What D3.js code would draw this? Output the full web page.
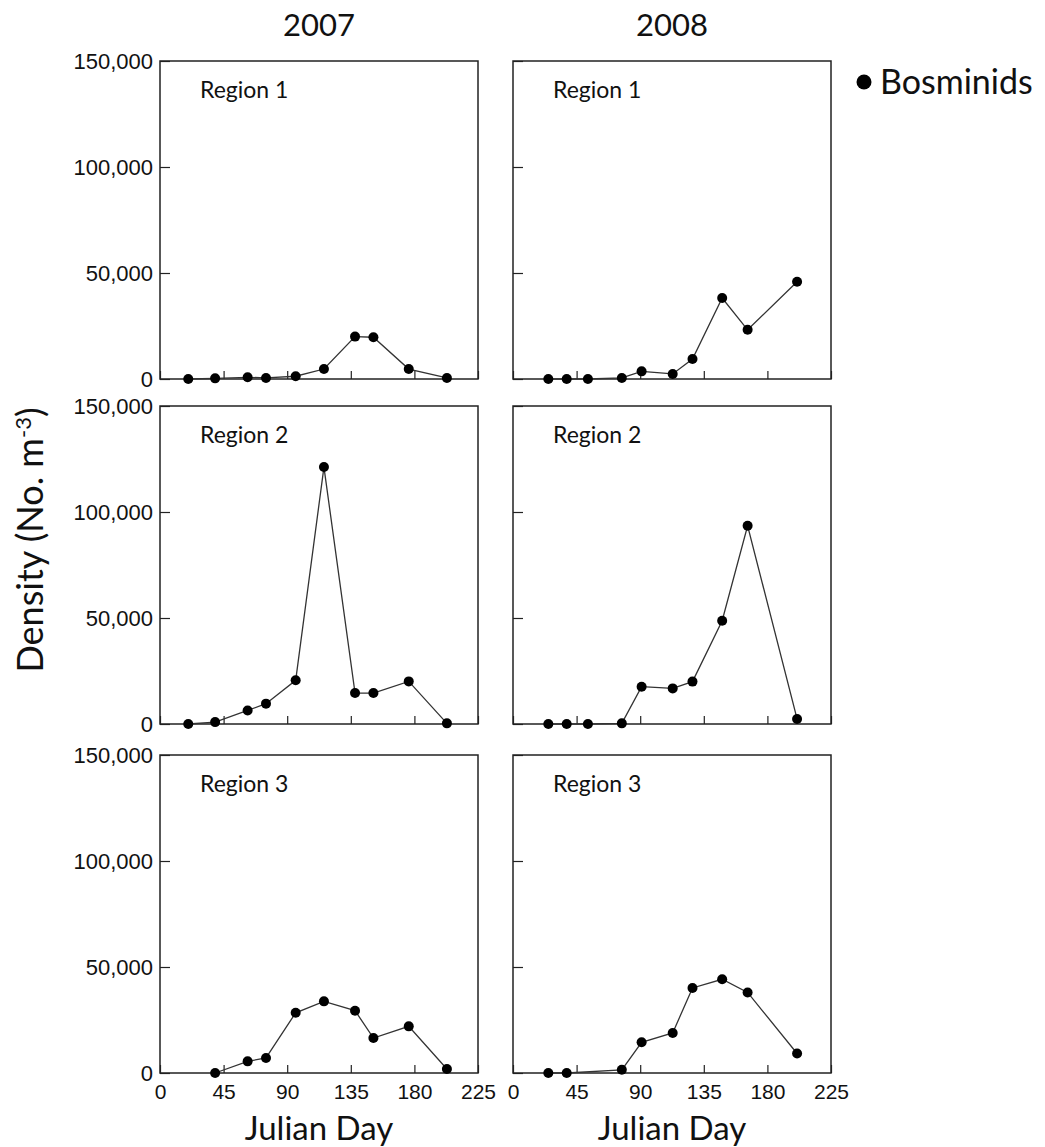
<!DOCTYPE html>
<html>
<head>
<meta charset="utf-8">
<script src="https://cdn.jsdelivr.net/npm/d3@7"></script>
<style>
  body { margin: 0; background: #fff; }
  .tick text { font-family: "Liberation Sans", Arial, sans-serif; fill: #111; }
  .label { font-family: Lato, "Open Sans", sans-serif; fill: #111; }
</style>
</head>
<body>
<script>
// values (Bosminids density, No. m-3)
var years = ["2007", "2008"];
var regions = ["Region 1", "Region 2", "Region 3"];
var days2007 = [20, 39, 62, 75, 96, 116, 138, 151, 176, 203];
var days2008 = [25, 38, 53, 77, 91, 113, 127, 148, 166, 201];
var region1_2007 = [0, 300, 800, 500, 1300, 4700, 20000, 19700, 4700, 500];
var region2_2007 = [0, 900, 6400, 9600, 20600, 121200, 14600, 14600, 20100, 300];
var region3_2007 = [null, 0, 5500, 7100, 28400, 33800, 29400, 16500, 22000, 1900];
var region1_2008 = [0, 0, 0, 500, 3600, 2400, 9400, 38200, 23200, 45900];
var region2_2008 = [0, 0, 0, 300, 17600, 16800, 20000, 48700, 93500, 2400];
var region3_2008 = [0, 0, null, 1500, 14500, 18900, 40100, 44200, 38000, 9200];
var xTicks = [0, 45, 90, 135, 180, 225];
var yTicks = [0, 50000, 100000, 150000];

var series = {
  "2007": [region1_2007, region2_2007, region3_2007],
  "2008": [region1_2008, region2_2008, region3_2008]
};
var daysByYear = { "2007": days2007, "2008": days2008 };

var W = 1045, H = 1147;
var colLeft = [160, 513];
var rowTop = [61, 406, 755];
var size = 318;

var svg = d3.select("body").append("svg")
  .attr("width", W).attr("height", H);

var x = d3.scaleLinear().domain([0, 225]).range([0, size]);
var y = d3.scaleLinear().domain([0, 150000]).range([size, 0]);
var fmt = d3.format(",");

var line = d3.line()
  .x(function(d) { return x(d.day); })
  .y(function(d) { return y(d.v); });

years.forEach(function(yr, ci) {
  // column title
  svg.append("text").attr("class", "label")
    .attr("x", colLeft[ci] + size / 2).attr("y", 36)
    .attr("text-anchor", "middle")
    .style("font-size", "31px")
    .text(yr);

  regions.forEach(function(reg, ri) {
    var g = svg.append("g")
      .attr("transform", "translate(" + colLeft[ci] + "," + rowTop[ri] + ")");

    var yAxis = d3.axisLeft(y).tickValues(yTicks)
      .tickSizeInner(-10).tickSizeOuter(0).tickPadding(7)
      .tickFormat(ci === 0 ? fmt : "");
    g.append("g").call(yAxis)
      .call(function(s) { s.select(".domain").remove(); })
      .selectAll("text").style("font-size", "22px");

    var xAxis = d3.axisBottom(x).tickValues(xTicks)
      .tickSizeInner(-8).tickSizeOuter(0).tickPadding(11)
      .tickFormat(ri === 2 ? d3.format("d") : "");
    g.append("g").attr("transform", "translate(0," + size + ")").call(xAxis)
      .call(function(s) { s.select(".domain").remove(); })
      .selectAll("text").style("font-size", "21px");

    g.selectAll(".tick line").attr("stroke", "#222").attr("stroke-width", 1.2);

    // frame
    g.append("rect").attr("width", size).attr("height", size)
      .attr("fill", "none").attr("stroke", "#222").attr("stroke-width", 1.5);

    g.append("text").attr("class", "label")
      .attr("x", 40).attr("y", 37)
      .style("font-size", "23px")
      .text(reg);

    var pts = daysByYear[yr].map(function(d, i) {
      return { day: d, v: series[yr][ri][i] };
    }).filter(function(d) { return d.v != null; });

    g.append("path").datum(pts)
      .attr("d", line)
      .attr("fill", "none").attr("stroke", "#333").attr("stroke-width", 1.3);

    g.selectAll("circle").data(pts).enter().append("circle")
      .attr("cx", function(d) { return x(d.day); })
      .attr("cy", function(d) { return y(d.v); })
      .attr("r", 5).attr("fill", "#000");
  });

  svg.append("text").attr("class", "label")
    .attr("x", colLeft[ci] + size / 2).attr("y", 1140)
    .attr("text-anchor", "middle")
    .style("font-size", "33px")
    .text("Julian Day");
});

// y axis title
var yt = svg.append("text").attr("class", "label")
  .attr("transform", "translate(43,540) rotate(-90)")
  .attr("text-anchor", "middle")
  .style("font-size", "36px");
yt.append("tspan").text("Density (No. m");
yt.append("tspan").attr("dy", -12).style("font-size", "22px").text("-3");
yt.append("tspan").attr("dy", 12).text(")");

// legend
svg.append("circle").attr("cx", 864).attr("cy", 82).attr("r", 7.5).attr("fill", "#000");
svg.append("text").attr("class", "label")
  .attr("x", 880).attr("y", 94)
  .style("font-size", "34px")
  .text("Bosminids");
</script>
</body>
</html>
